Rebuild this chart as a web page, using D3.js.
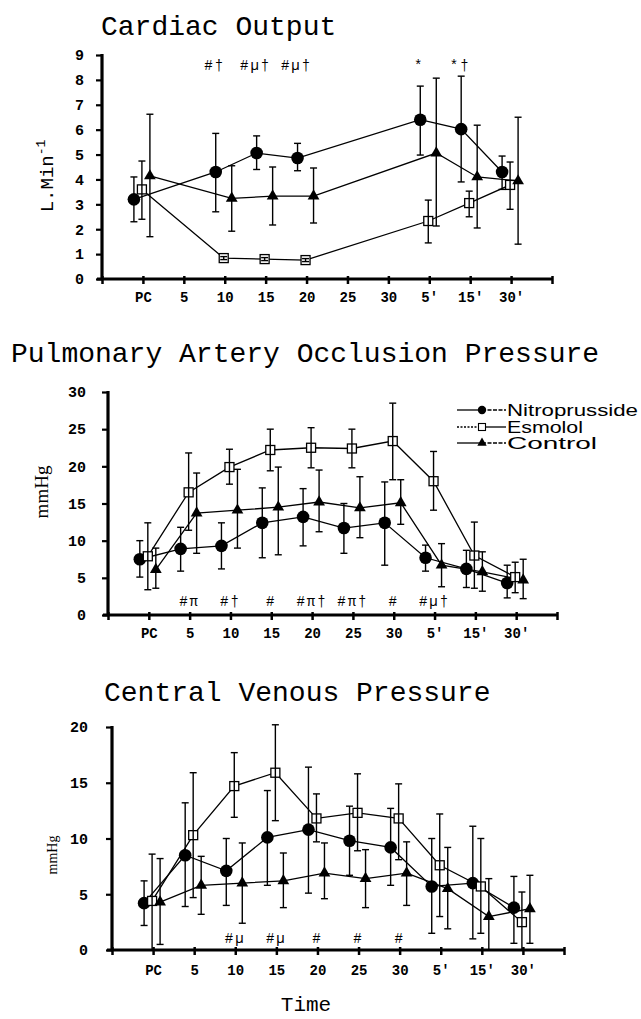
<!DOCTYPE html>
<html><head><meta charset="utf-8">
<script src="https://cdn.jsdelivr.net/npm/d3@7/dist/d3.min.js"></script>
<style>body{margin:0;background:#fff}</style>
</head><body><svg id="c" width="641" height="1019"></svg>
<script>
// ---------- DATA ----------
const xLabels = ["PC","5","10","15","20","25","30","5'","15'","30'"];
const seriesNames = ["Nitroprusside","Esmolol","Control"];

// Cardiac Output (L.Min-1)
const coNitro   = [3.2, null, 4.3, 5.06, 4.86, null, null, 6.4, 6.02, 4.3];
const coNitroHi = [4.1, null, 5.85, 5.75, 5.45, null, null, 7.75, 8.15, 4.94];
const coNitroLo = [2.3, null, 2.7, 4.4, 4.35, null, null, 4.98, 3.9, 3.6];
const coEsmo    = [3.6, null, 0.84, 0.8, 0.76, null, null, 2.33, 3.05, 3.78];
const coEsmoHi  = [4.74, null, 0.9, 0.86, 0.82, null, null, 3.17, 3.53, 4.7];
const coEsmoLo  = [2.4, null, 0.78, 0.74, 0.7, null, null, 1.45, 2.5, 2.8];
const coCtrl    = [4.14, null, 3.24, 3.33, 3.33, null, null, 5.06, 4.1, 3.94];
const coCtrlHi  = [6.62, null, 4.55, 4.5, 4.46, null, null, 8.07, 6.18, 6.5];
const coCtrlLo  = [1.7, null, 1.92, 2.17, 2.25, null, null, 2.13, 2.05, 1.4];
const coTicks   = [0,1,2,3,4,5,6,7,8,9];
const coNotes   = [{at:3, t:"#†"},{at:4, t:"#µ†"},{at:5, t:"#µ†"},{at:8, t:"*"},{at:9, t:"*†"}];

// Pulmonary Artery Occlusion Pressure (mmHg)
const paNitro   = [7.5, 8.9, 9.3, 12.4, 13.2, 11.7, 12.4, 7.7, 6.2, 4.3];
const paNitroHi = [10.0, 11.8, 12.4, 17.1, 17.0, 15.0, 17.9, 9.4, 8.7, 6.7];
const paNitroLo = [5.1, 5.9, 6.2, 7.7, 9.3, 8.3, 6.7, 5.9, 3.7, 2.3];
const paEsmo    = [7.9, 16.5, 19.9, 22.2, 22.5, 22.4, 23.4, 18.0, 8.0, 5.1];
const paEsmoHi  = [12.4, 21.8, 22.3, 25.0, 25.2, 25.0, 28.5, 22.0, 12.5, 7.1];
const paEsmoLo  = [3.4, 11.4, 17.6, 19.4, 19.8, 19.8, 18.2, 14.1, 3.6, 3.0];
const paCtrl    = [6.1, 13.7, 14.1, 14.5, 15.2, 14.4, 15.1, 6.7, 5.8, 4.7];
const paCtrlHi  = [9.0, 19.1, 19.6, 19.9, 19.5, 18.6, 18.2, 9.6, 8.5, 7.5];
const paCtrlLo  = [3.6, 8.3, 9.0, 8.1, 11.2, 10.4, 12.2, 3.8, 3.2, 2.2];
const paTicks   = [0,5,10,15,20,25,30];
const paNotes   = [{at:2,t:"#π"},{at:3,t:"#†"},{at:4,t:"#"},{at:5,t:"#π†"},{at:6,t:"#π†"},{at:7,t:"#"},{at:8,t:"#µ†"}];

// Central Venous Pressure (mmHg)
const cvNitro   = [4.2, 8.5, 7.1, 10.1, 10.8, 9.8, 9.2, 5.7, 6.0, 3.8];
const cvNitroHi = [6.2, 13.2, 10.0, 14.3, 16.4, 12.9, 12.7, 10.0, 11.1, 6.6];
const cvNitroLo = [2.2, 3.9, 4.0, 5.8, 5.1, 6.7, 5.8, 1.5, 1.0, 0.6];
const cvEsmo    = [4.4, 10.3, 14.7, 15.9, 11.8, 12.3, 11.8, 7.6, 5.7, 2.5];
const cvEsmoHi  = [8.6, 15.9, 17.7, 20.2, 14.0, 15.8, 14.9, 12.2, 10.0, 5.2];
const cvEsmoLo  = [0.0, 4.7, 11.9, 11.6, 9.7, 8.9, 8.1, 3.0, 1.5, 0.0];
const cvCtrl    = [4.3, 5.8, 6.0, 6.2, 6.9, 6.4, 6.9, 5.5, 3.0, 3.7];
const cvCtrlHi  = [8.2, 8.4, 9.6, 8.7, 9.6, 9.0, 9.7, 9.2, 6.4, 6.7];
const cvCtrlLo  = [0.5, 3.2, 2.4, 3.8, 4.6, 3.8, 4.0, 1.9, 0.0, 0.6];
const cvTicks   = [0,5,10,15,20];
const cvNotes   = [{at:3,t:"#µ"},{at:4,t:"#µ"},{at:5,t:"#"},{at:6,t:"#"},{at:7,t:"#"}];

// ---------- DRAWING ----------
const svg = d3.select("#c");
const MONO = "'Liberation Mono','Courier New',Courier,monospace";

function panel(cfg) {
  const g = svg.append("g");
  const x = d3.scaleLinear().domain([0, 11]).range([cfg.x0, cfg.x1]);
  const y = d3.scaleLinear().domain([0, cfg.yMax]).range([cfg.y0, cfg.yTop]);

  // title
  g.append("text").attr("x", cfg.titleX).attr("y", cfg.titleY)
    .attr("font-family", MONO).attr("font-size", 28).attr("fill", "#000").text(cfg.title);

  // x axis
  const xa = d3.axisBottom(x).tickValues(d3.range(0, 12))
    .tickFormat(i => (i >= 1 && i <= 10) ? xLabels[i - 1] : "")
    .tickSize(5).tickSizeOuter(0).tickPadding(cfg.xPad);
  const gx = g.append("g").attr("transform", `translate(0,${cfg.y0})`).call(xa);
  gx.select(".domain").attr("stroke", "#000").attr("stroke-width", 3)
    .attr("d", `M${cfg.x0 - 5},0H${cfg.x1 + 1}`);
  gx.selectAll(".tick line").attr("stroke", "#000").attr("stroke-width", 2.5).attr("y1", -3);
  gx.selectAll(".tick text").attr("font-family", MONO).attr("font-weight", "bold")
    .attr("font-size", 14).attr("fill", "#000");

  // y axis
  const ya = d3.axisLeft(y).tickValues(cfg.yTicks).tickSize(6).tickSizeOuter(0).tickPadding(cfg.yPad);
  const gy = g.append("g").attr("transform", `translate(${cfg.x0},0)`).call(ya);
  gy.select(".domain").attr("stroke", "#000").attr("stroke-width", 3.2)
    .attr("d", `M0,${cfg.yTop - 1}V${cfg.y0 + 1}`);
  gy.selectAll(".tick line").attr("stroke", "#000").attr("stroke-width", 2.2);
  gy.selectAll(".tick text").attr("font-family", MONO).attr("font-weight", "bold")
    .attr("font-size", 15).attr("fill", "#000");

  // y axis title
  const yt = g.append("text").attr("transform", `translate(${cfg.yLabX},${cfg.yLabY}) rotate(-90)`)
    .attr("text-anchor", "middle").attr("font-family", cfg.yLabFont)
    .attr("font-size", cfg.yLabSize).attr("fill", "#000");
  yt.append("tspan").text(cfg.yLab);
  if (cfg.yLabSup) yt.append("tspan").attr("dy", -8).attr("font-size", 13).text(cfg.yLabSup);

  // series
  const line = d3.line().x(d => x(d.i) + d.off).y(d => y(d.v));
  cfg.series.forEach(s => {
    const pts = s.mean.map((v, k) => v == null ? null :
      { i: k + 1, v, hi: s.hi[k], lo: s.lo[k], off: s.off }).filter(Boolean);
    g.append("path").datum(pts).attr("d", line).attr("fill", "none")
      .attr("stroke", "#000").attr("stroke-width", 1.3);
    s.pts = pts;
  });
  cfg.series.forEach(s => {
    const gm = g.append("g");
    s.pts.forEach(d => {
      const cx = x(d.i) + d.off, cy = y(d.v);
      if (s.type === "circle") {
        gm.append("circle").attr("cx", cx).attr("cy", cy).attr("r", 6.3).attr("fill", "#000");
      } else if (s.type === "square") {
        gm.append("rect").attr("x", cx - 4.5).attr("y", cy - 4.5).attr("width", 9).attr("height", 9)
          .attr("fill", "#fff").attr("stroke", "#000").attr("stroke-width", 1.3);
      } else {
        gm.append("path").attr("d", d3.symbol(d3.symbolTriangle, 60)())
          .attr("transform", `translate(${cx},${cy})`).attr("fill", "#000");
      }
    });
  });
  cfg.series.forEach(s => {
    const ge = g.append("g").attr("stroke", "#000").attr("stroke-width", 1.4);
    s.pts.forEach(d => {
      const cx = x(d.i) + d.off;
      ge.append("line").attr("x1", cx).attr("x2", cx).attr("y1", y(d.hi)).attr("y2", y(d.lo));
      ge.append("line").attr("x1", cx - 3.5).attr("x2", cx + 3.5).attr("y1", y(d.hi)).attr("y2", y(d.hi));
      ge.append("line").attr("x1", cx - 3.5).attr("x2", cx + 3.5).attr("y1", y(d.lo)).attr("y2", y(d.lo));
    });
  });

  // significance notes
  cfg.notes.forEach(n => {
    g.append("text").attr("x", x(n.at) + cfg.noteOff).attr("y", cfg.noteY)
      .attr("text-anchor", "middle").attr("font-family", MONO).attr("font-size", 14)
      .attr("letter-spacing", 2).attr("fill", "#000").text(n.t);
  });
  return { x, y, g };
}

function mkSeries(n, nh, nl, e, eh, el, c, ch, cl) {
  return [
    { mean: n, hi: nh, lo: nl, off: -9, type: "circle" },
    { mean: e, hi: eh, lo: el, off: -1, type: "square" },
    { mean: c, hi: ch, lo: cl, off: 7, type: "triangle" }
  ];
}

panel({
  title: "Cardiac Output", titleX: 101, titleY: 35,
  x0: 102, x1: 552, y0: 279, yTop: 55, yMax: 9, yTicks: coTicks,
  xPad: 8, yPad: 12,
  yLab: "L.Min", yLabSup: "-1", yLabX: 53, yLabY: 176, yLabSize: 19, yLabFont: MONO,
  series: mkSeries(coNitro, coNitroHi, coNitroLo, coEsmo, coEsmoHi, coEsmoLo, coCtrl, coCtrlHi, coCtrlLo),
  notes: coNotes, noteOff: -10, noteY: 70
});

panel({
  title: "Pulmonary Artery Occlusion Pressure", titleX: 11, titleY: 362,
  x0: 108, x1: 557, y0: 615, yTop: 392, yMax: 30, yTicks: paTicks,
  xPad: 8, yPad: 16,
  yLab: "mmHg", yLabX: 48, yLabY: 492, yLabSize: 19, yLabFont: "'Liberation Serif','Times New Roman',serif",
  series: mkSeries(paNitro, paNitroHi, paNitroLo, paEsmo, paEsmoHi, paEsmoLo, paCtrl, paCtrlHi, paCtrlLo),
  notes: paNotes, noteOff: 0, noteY: 606
});

panel({
  title: "Central Venous Pressure", titleX: 104, titleY: 701,
  x0: 112, x1: 564, y0: 950, yTop: 727, yMax: 20, yTicks: cvTicks,
  xPad: 10, yPad: 18,
  yLab: "mmHg", yLabX: 57, yLabY: 855, yLabSize: 14, yLabFont: "'Liberation Serif','Times New Roman',serif",
  series: mkSeries(cvNitro, cvNitroHi, cvNitroLo, cvEsmo, cvEsmoHi, cvEsmoLo, cvCtrl, cvCtrlHi, cvCtrlLo),
  notes: cvNotes, noteOff: 0, noteY: 943
});

// x axis title
svg.append("text").attr("x", 306).attr("y", 1011).attr("text-anchor", "middle")
  .attr("font-family", MONO).attr("font-size", 21).attr("fill", "#000").text("Time");

// legend
const legY = [410, 427, 443];
const legTypes = ["circle", "square", "triangle"];
const legLen = [131, 76, 90];
const lg = svg.append("g");
seriesNames.forEach((name, k) => {
  const yy = legY[k], cx = 482;
  lg.append("line").attr("x1", 457).attr("x2", cx).attr("y1", yy).attr("y2", yy)
    .attr("stroke", "#000").attr("stroke-width", 1.3)
    .attr("stroke-dasharray", legTypes[k] === "square" ? "2,1.5" : null);
  lg.append("line").attr("x1", cx).attr("x2", 506).attr("y1", yy).attr("y2", yy)
    .attr("stroke", "#000").attr("stroke-width", 1.3)
    .attr("stroke-dasharray", legTypes[k] === "square" ? null : "4,1.5");
  if (legTypes[k] === "circle") {
    lg.append("circle").attr("cx", cx).attr("cy", yy).attr("r", 4.2).attr("fill", "#000");
  } else if (legTypes[k] === "square") {
    lg.append("rect").attr("x", cx - 3.5).attr("y", yy - 3.5).attr("width", 7).attr("height", 7)
      .attr("fill", "#fff").attr("stroke", "#000").attr("stroke-width", 1.1);
  } else {
    lg.append("path").attr("d", d3.symbol(d3.symbolTriangle, 38)())
      .attr("transform", `translate(${cx},${yy})`).attr("fill", "#000");
  }
  lg.append("text").attr("x", 507).attr("y", yy + 5.5)
    .attr("font-family", "'Liberation Sans',Arial,Helvetica,sans-serif").attr("font-size", 16)
    .attr("textLength", legLen[k]).attr("lengthAdjust", "spacingAndGlyphs")
    .attr("fill", "#000").text(name);
});
</script>
</body></html>
